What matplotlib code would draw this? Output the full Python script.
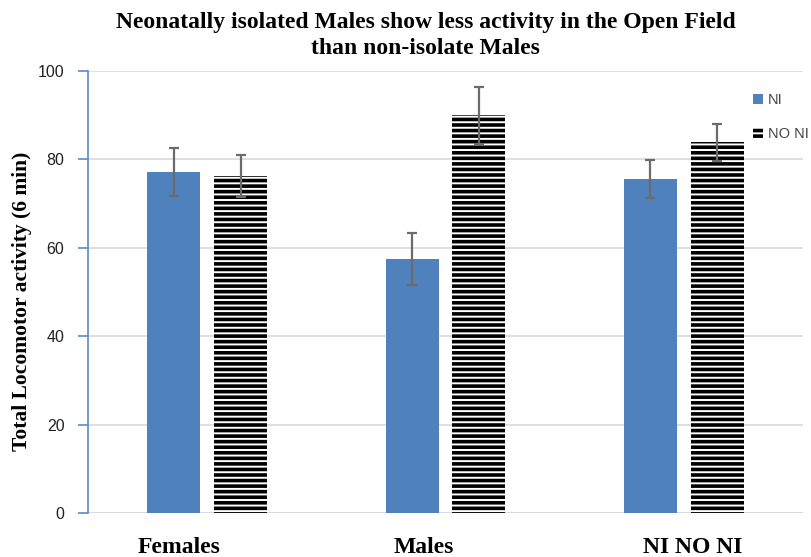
import numpy as np
import matplotlib
matplotlib.use('Agg')
import matplotlib.pyplot as plt

# Data
groups = ['Females', 'Males', 'NI NO NI']
ni_means = [77.1, 57.5, 75.6]
ni_err = [5.4, 5.9, 4.3]
noni_means = [76.2, 90.0, 83.9]
noni_err = [4.8, 6.4, 4.2]

plt.rcParams['hatch.linewidth'] = 2.6

fig = plt.figure(figsize=(8.11, 5.57), dpi=100)
ax = fig.add_axes([0.1085, 0.079, 0.8816, 0.7935])

x = np.arange(len(groups))
w = 0.222
off = 0.14

ax.bar(x - off, ni_means, w, color='#4f81bd', label='NI', zorder=2)
ax.bar(x + off, noni_means, w, color='white', edgecolor='black', linewidth=0,
       hatch='---', label='NO NI', zorder=2)

ax.errorbar(x - off, ni_means, yerr=ni_err, fmt='none', ecolor='#6b6b6b',
            elinewidth=1.6, capsize=3.3, capthick=1.6, zorder=3)
ax.errorbar(x + off, noni_means, yerr=noni_err, fmt='none', ecolor='#6b6b6b',
            elinewidth=1.6, capsize=3.3, capthick=1.6, zorder=3)

ax.set_xlim(-0.5, 2.5)
ax.set_ylim(0, 100)
ax.set_yticks(range(0, 101, 20))
ax.yaxis.grid(True, color='#d9d9d9', linewidth=1.2, zorder=0)
ax.set_axisbelow(True)

for s in ['top', 'right', 'bottom']:
    ax.spines[s].set_visible(False)
ax.spines['left'].set_color('#5b8ac7')
ax.spines['left'].set_linewidth(1.2)
ax.axhline(0, color='#d9d9d9', linewidth=1.2, zorder=1)

ax.tick_params(axis='y', direction='out', length=7, color='#5b8ac7', width=1.2,
               labelsize=11.5, labelcolor='#222222', pad=10)
for t in ax.get_yticklabels():
    t.set_family('Liberation Sans')

ax.set_xticks(x)
ax.set_xticklabels(groups, family='Liberation Serif', fontweight='bold', fontsize=17)
ax.tick_params(axis='x', length=0, pad=17)
# category labels sit a little off the group centres in the original
for t, dx in zip(ax.get_xticklabels(), [-28, -22, 9]):
    t.set_transform(t.get_transform() + matplotlib.transforms.ScaledTranslation(dx / 100, 0, fig.dpi_scale_trans))

ax.set_ylabel('Total Locomotor activity (6 min)', family='Liberation Serif',
              fontweight='bold', fontsize=15.5)
ax.yaxis.set_label_coords(-0.079, 0.478)

fig.suptitle('Neonatally isolated Males show less activity in the Open Field\n'
             'than non-isolate Males', family='Liberation Serif', fontweight='bold',
             fontsize=17, x=0.525, y=0.978, linespacing=1.3)

leg = ax.legend(loc='upper left', bbox_to_anchor=(0.912, 0.98), frameon=False,
                handlelength=0.7, handleheight=0.7, handletextpad=0.3,
                labelspacing=1.35, prop={'family': 'Liberation Sans', 'size': 10.5})
for t in leg.get_texts():
    t.set_color('#444444')

fig.savefig('out.png', dpi=100)
